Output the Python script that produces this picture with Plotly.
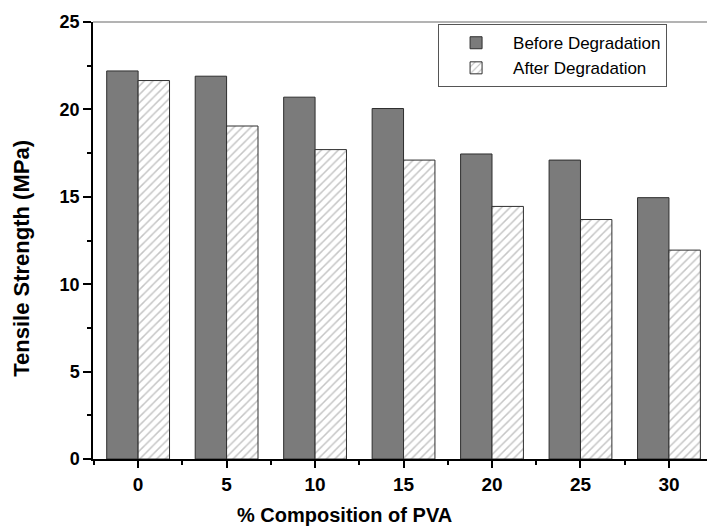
import plotly.graph_objects as go

categories = ["0", "5", "10", "15", "20", "25", "30"]
before = [22.2, 21.9, 20.7, 20.05, 17.45, 17.1, 14.95]
after = [21.65, 19.05, 17.7, 17.1, 14.45, 13.7, 11.95]
y_ticks = [0, 5, 10, 15, 20, 25]
x_title = "% Composition of PVA"
y_title = "Tensile Strength (MPa)"

xpos = list(range(len(categories)))
FONT = "Liberation Sans, Arial, sans-serif"

fig = go.Figure()
fig.add_trace(go.Bar(
    x=xpos, y=before, name="Before Degradation",
    marker=dict(color="#7b7b7b", line=dict(color="#2e2e2e", width=1)),
))
fig.add_trace(go.Bar(
    x=xpos, y=after, name="After Degradation",
    marker=dict(color="white", line=dict(color="#2e2e2e", width=1),
                pattern=dict(shape="/", fgcolor="#8c8c8c", bgcolor="white",
                             size=6, solidity=0.25)),
))

fig.update_layout(
    width=707, height=528,
    margin=dict(l=93, r=0, t=22, b=69),
    paper_bgcolor="white", plot_bgcolor="white",
    barmode="group", bargap=0.29, bargroupgap=0,
    font=dict(family=FONT, color="black"),
    showlegend=True,
    legend=dict(x=0.562, y=0.995, xanchor="left", yanchor="top",
                bordercolor="#555555", borderwidth=1, bgcolor="white",
                font=dict(size=17, family=FONT, color="black"),
                tracegroupgap=0, itemwidth=64),
    xaxis=dict(
        range=[-0.51, 6.43], tickmode="array", tickvals=xpos, ticktext=categories,
        showline=True, linecolor="black", linewidth=1.5,
        ticks="outside", ticklen=7, tickwidth=1.5, tickcolor="black",
        tickfont=dict(size=19, family=FONT, color="black", weight="bold"),
        showgrid=False, zeroline=False,
        minor=dict(tickmode="array", tickvals=[-0.5 + i for i in range(8)],
                   ticks="outside", ticklen=4, tickwidth=1.5, tickcolor="black"),
    ),
    yaxis=dict(
        range=[0, 25], tickmode="array", tickvals=y_ticks,
        showline=True, linecolor="black", linewidth=1.5,
        ticks="outside", ticklen=8, tickwidth=1.5, tickcolor="black",
        tickfont=dict(size=18, family=FONT, color="black", weight="bold"),
        showgrid=False, zeroline=False,
        minor=dict(dtick=2.5, ticks="outside", ticklen=4, tickwidth=1.5, tickcolor="black"),
    ),
)

fig.add_annotation(text="<b>" + x_title + "</b>", xref="paper", yref="paper",
                   x=0.409, y=-0.128, xanchor="center", yanchor="middle",
                   showarrow=False, font=dict(size=20, family=FONT, color="black"))
fig.add_annotation(text="<b>" + y_title + "</b>", xref="paper", yref="paper",
                   x=-0.116, y=0.46, textangle=-90, xanchor="center", yanchor="middle",
                   showarrow=False, font=dict(size=22, family=FONT, color="black"))

fig.add_shape(type="line", xref="paper", yref="paper", x0=0, x1=1, y0=1, y1=1,
              line=dict(color="#9a9a9a", width=1.5))

fig.write_html("out.html")
